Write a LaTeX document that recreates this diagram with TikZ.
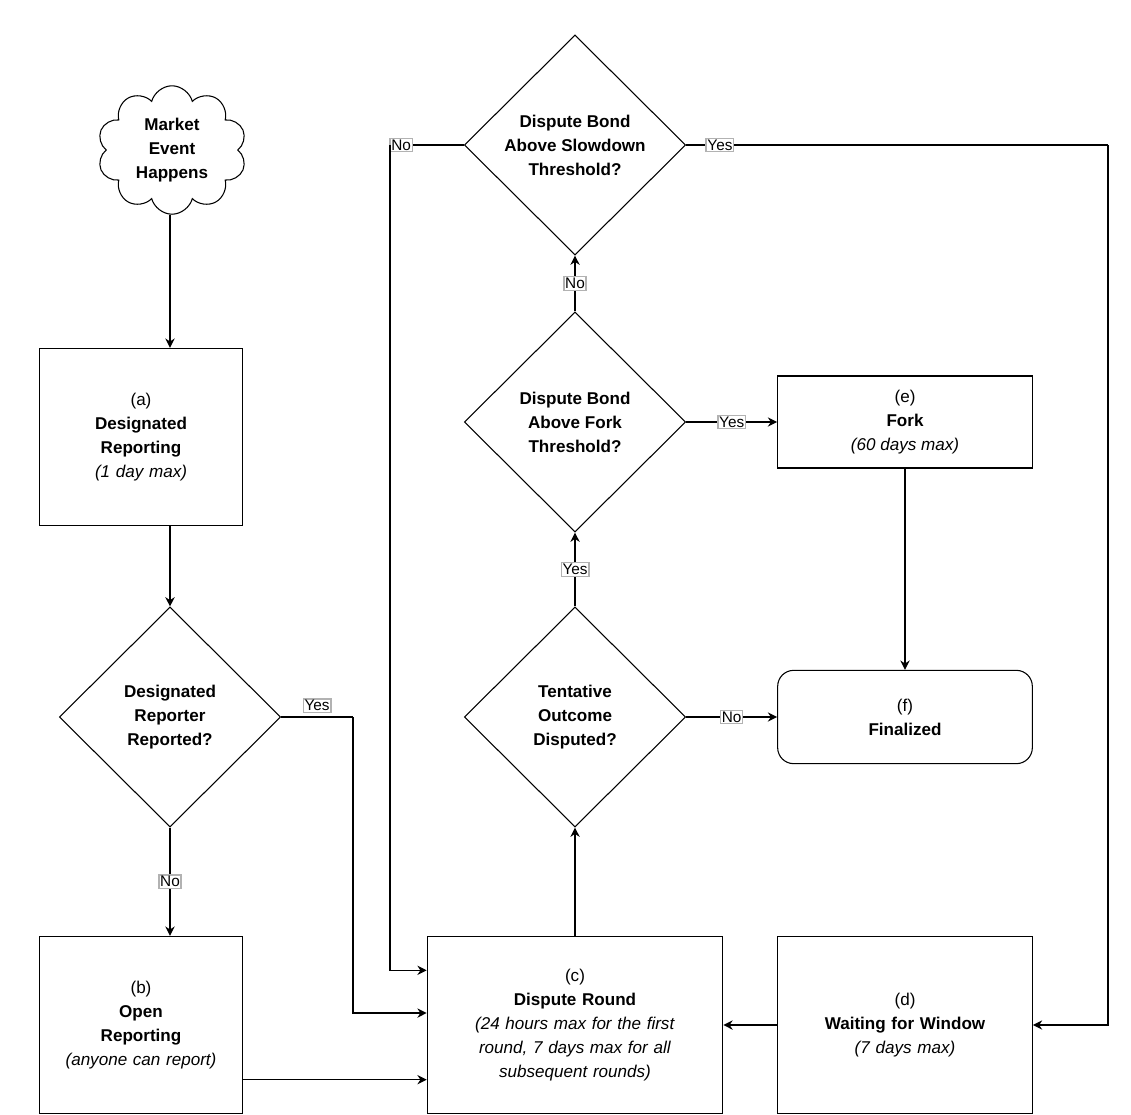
\documentclass[tikz,border=0pt]{standalone}
\usepackage{fontspec}
\setmainfont{Liberation Sans}
\usetikzlibrary{shapes.geometric, shapes.symbols, arrows, arrows.meta}
\tikzstyle{process} = [rectangle, draw=black, thick, text centered, align=center,
minimum width=152pt, minimum height=133pt, text width=140pt]
\tikzstyle{smallbox} = [rectangle, draw=black, thick, text centered, align=center,
minimum width=191pt, minimum height=69pt]
\tikzstyle{decision} = [diamond, draw=black, thick, text centered, align=center,
minimum width=166pt, minimum height=165pt, inner sep=0pt]
\tikzstyle{arrow} = [line width=1pt,-{Stealth[length=7pt,width=7pt]}]
\tikzstyle{line} = [line width=1pt]
\tikzstyle{tag} = [draw=black!30, fill=white, inner sep=1pt, font=\fontsize{11.5}{13}\selectfont]

\begin{document}
\begin{tikzpicture}[x=0.75pt, y=-0.75pt, font=\fontsize{12.8}{18}\selectfont]
\useasboundingbox (0,0) rectangle (1131,1114);

\node(event)[cloud, draw=black, thick, cloud puffs=10, aspect=1.25, minimum width=112pt,
minimum height=92pt, align=center, font=\fontsize{12.8}{18}\selectfont\bfseries]
at (172,150) {Market\\Event\\Happens};
\node(desig)[process] at (141,437) {(a)\\\textbf{Designated}\\\textbf{Reporting}\\\textit{(1 day max)}};
\node(reported)[decision] at (170,717) {\textbf{Designated}\\\textbf{Reporter}\\\textbf{Reported?}};
\node(open)[process] at (141,1025) {(b)\\\textbf{Open}\\\textbf{Reporting}\\\textit{(anyone can report)}};
\node(round)[process, minimum width=221pt, text width=215pt] at (575,1025)
{(c)\\\textbf{Dispute Round}\\\textit{(24 hours max for the first}\\\textit{round, 7 days max for all}\\\textit{subsequent rounds)}};
\node(wait)[process, minimum width=191pt, text width=180pt] at (905,1025)
{(d)\\\textbf{Waiting for Window}\\\textit{(7 days max)}};
\node(disputed)[decision] at (575,717) {\textbf{Tentative}\\\textbf{Outcome}\\\textbf{Disputed?}};
\node(forkthr)[decision] at (575,422) {\textbf{Dispute Bond}\\\textbf{Above Fork}\\\textbf{Threshold?}};
\node(slowthr)[decision] at (575,145) {\textbf{Dispute Bond}\\\textbf{Above Slowdown}\\\textbf{Threshold?}};
\node(fork)[smallbox] at (905,422) {(e)\\\textbf{Fork}\\\textit{(60 days max)}};
\node(final)[smallbox, rounded corners=12pt, minimum height=70pt] at (905,717) {(f)\\\textbf{Finalized}};

\coordinate(yescorner) at (353,717);
\coordinate(nocorner) at (390,145);
\coordinate(slowcorner) at (1108,145);

\draw[arrow](reported |- event.south) -- (reported |- desig.north);
\draw[arrow](reported |- desig.south) -- (reported.north);
\draw[arrow](reported) -- node[tag]{No}(reported |- open.north);
\draw[line](reported.east) -- node[tag, above, yshift=3pt]{Yes}(yescorner);
\draw[arrow](yescorner) |- ([yshift=9pt]round.west);
\draw[arrow]([yshift=-41pt]open.east) -- ([yshift=-41pt]round.west);
\draw[arrow](round) -- (disputed);
\draw[arrow](disputed) -- node[tag]{Yes}(forkthr);
\draw[arrow](forkthr) -- node[tag]{No}(slowthr);
\draw[arrow](forkthr) -- node[tag]{Yes}(fork);
\draw[arrow](disputed) -- node[tag]{No}(final);
\draw[arrow](fork) -- (final);
\draw[line](slowthr.west) -- node[tag, pos=0.85]{No}(nocorner);
\draw[arrow](nocorner) |- ([yshift=41pt]round.west);
\draw[line](slowthr.east) -- node[tag, pos=0.08]{Yes}(slowcorner);
\draw[arrow](slowcorner) |- (wait.east);
\draw[arrow](wait.west) -- (round.east);

\end{tikzpicture}
\end{document}
